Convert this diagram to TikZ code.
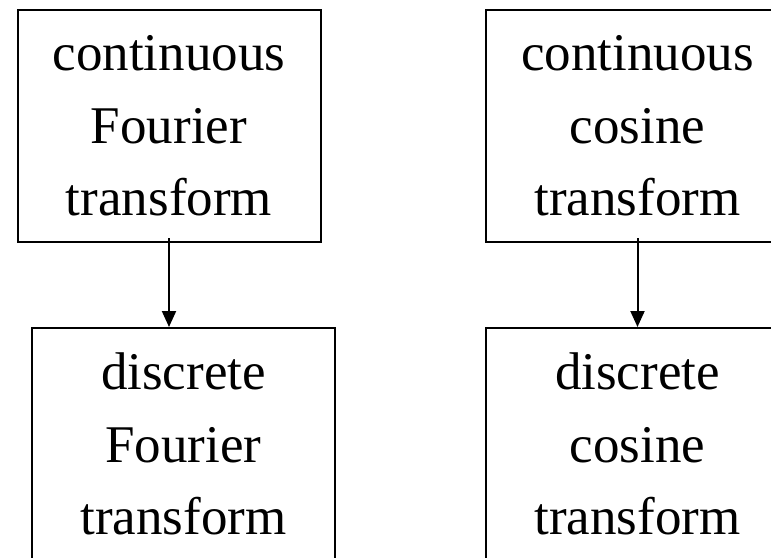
\documentclass[tikz,border=0pt]{standalone}
\usepackage{fontspec}
\setmainfont{Liberation Serif}
\usetikzlibrary{arrows.meta}

\tikzset{
  tbox/.style={draw, rectangle, line width=1pt, minimum width=151.5pt, minimum height=116pt,
    align=center, inner sep=0pt, font=\fontsize{26.5}{36.25}\selectfont},
  tarrow/.style={line width=1pt, -{Triangle[length=8pt,width=7pt]}}
}

\begin{document}
\begin{tikzpicture}[x=0.5pt,y=-0.5pt]
	\useasboundingbox (0,0) rectangle (771,557);
	\clip (0,0) rectangle (771,557);
	\node[tbox] (cft) at (169,126) {continuous\\Fourier\\transform};
	\node[tbox] (cct) at (637.5,126) {continuous\\cosine\\transform};
	\node[tbox] (dft) at (183.5,444) {discrete\\Fourier\\transform};
	\node[tbox] (dct) at (637.5,444) {discrete\\cosine\\transform};
	\draw[tarrow] ([yshift=2.5pt]cft.south) -- (cft.south |- dft.north);
	\draw[tarrow] ([yshift=2.5pt]cct.south) -- (cct.south |- dct.north);
\end{tikzpicture}
\end{document}
